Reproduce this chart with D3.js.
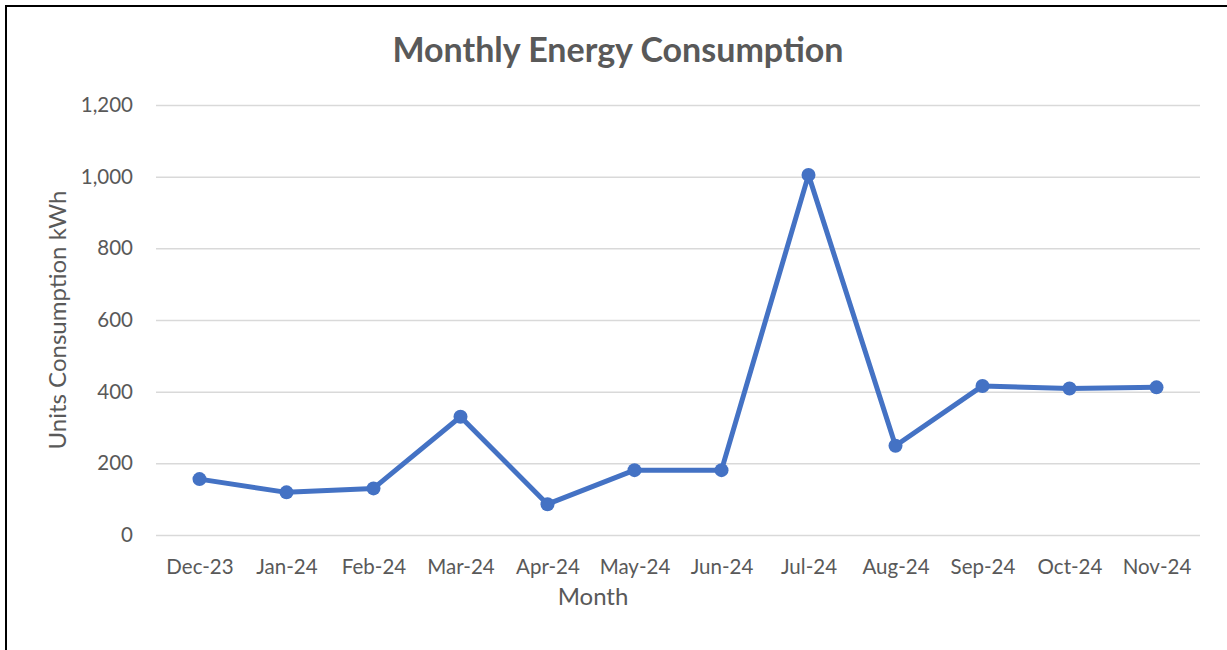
<!DOCTYPE html>
<html lang="en">
<head>
<meta charset="UTF-8">
<title>Monthly Energy Consumption</title>
<script src="https://cdn.jsdelivr.net/npm/d3@7"></script>
<style>
    body { margin: 0; background: #fff; }
    text { font-family: Lato, "Open Sans", sans-serif; fill: #595959; }
</style>
</head>
<body>
<div id="chart"></div>
<script>
    const months = ["Dec-23", "Jan-24", "Feb-24", "Mar-24", "Apr-24", "May-24",
                    "Jun-24", "Jul-24", "Aug-24", "Sep-24", "Oct-24", "Nov-24"];
    const units = [156, 119, 130, 330, 86, 181, 181, 1005, 249, 416, 409, 412];
    const yTicks = [0, 200, 400, 600, 800, 1000, 1200];

    const W = 1227, H = 650;
    const margin = {top: 105, right: 27, bottom: 115, left: 156};
    const width = W - margin.left - margin.right,
          height = H - margin.top - margin.bottom;

    const svg = d3.select("#chart").append("svg")
        .attr("width", W)
        .attr("height", H);

    // outer frame (only left and top edges are visible in the shot)
    svg.append("rect")
        .attr("x", 6).attr("y", 6)
        .attr("width", W + 20).attr("height", H + 20)
        .attr("fill", "none")
        .attr("stroke", "#000")
        .attr("stroke-width", 2);

    const g = svg.append("g")
        .attr("transform", "translate(" + margin.left + "," + margin.top + ")");

    const x = d3.scalePoint(months, [0, width]).padding(0.5);
    const y = d3.scaleLinear([0, 1200], [height, 0]);

    // gridlines + y labels
    g.append("g")
        .call(d3.axisLeft(y).tickValues(yTicks).tickSize(-width)
            .tickFormat(d3.format(",")))
        .call(a => a.select(".domain").remove())
        .call(a => a.selectAll("line").attr("stroke", "#d9d9d9").attr("stroke-width", 1.5))
        .call(a => a.selectAll("text")
            .attr("x", -23)
            .style("font-size", "20.5px")
            .attr("fill", "#595959"));

    // x labels
    g.append("g")
        .attr("transform", "translate(0," + height + ")")
        .call(d3.axisBottom(x).tickSize(0))
        .call(a => a.select(".domain").remove())
        .call(a => a.selectAll("text")
            .attr("y", 24)
            .style("font-size", "20.5px")
            .attr("fill", "#595959"));

    const line = d3.line()
        .x((d, i) => x(months[i]))
        .y(d => y(d));

    g.append("path")
        .datum(units)
        .attr("d", line)
        .attr("fill", "none")
        .attr("stroke", "#4472c4")
        .attr("stroke-width", 5)
        .attr("stroke-linejoin", "round");

    g.append("g")
        .selectAll("circle")
        .data(units)
        .join("circle")
        .attr("cx", (d, i) => x(months[i]))
        .attr("cy", d => y(d))
        .attr("r", 7)
        .attr("fill", "#4472c4");

    svg.append("text")
        .attr("x", 618).attr("y", 62)
        .attr("text-anchor", "middle")
        .style("font-size", "34px")
        .style("font-weight", "bold")
        .text("Monthly Energy Consumption");

    svg.append("text")
        .attr("x", 593).attr("y", 605)
        .attr("text-anchor", "middle")
        .style("font-size", "24px")
        .text("Month");

    svg.append("text")
        .attr("transform", "translate(66," + (margin.top + height / 2) + ") rotate(-90)")
        .attr("text-anchor", "middle")
        .style("font-size", "24px")
        .text("Units Consumption kWh");
</script>
</body>
</html>
